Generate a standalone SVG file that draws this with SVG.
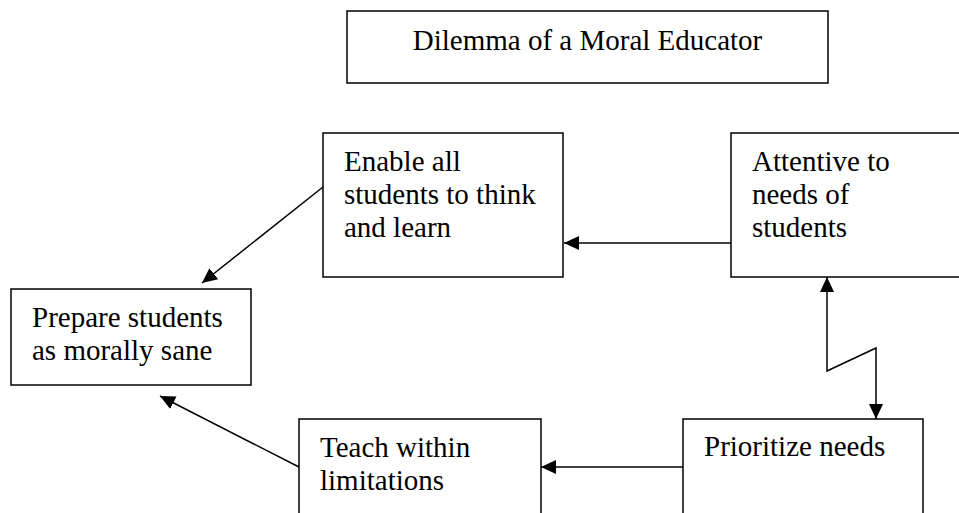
<svg xmlns="http://www.w3.org/2000/svg" width="959" height="513" viewBox="0 0 959 513">
<style>
.box{fill:#fff;stroke:#000;stroke-width:1.5}
.t{font-family:"Liberation Serif","Times New Roman",serif;font-size:29px;fill:#000}
.c{fill:none;stroke:#000;stroke-width:1.5}
</style>
<defs>
<marker id="ah" markerUnits="userSpaceOnUse" markerWidth="16" markerHeight="16" refX="15" refY="7" orient="auto-start-reverse" viewBox="0 0 16 14">
<path d="M0,0 L15,7 L0,14 z" fill="#000"/>
</marker>
</defs>
<rect width="959" height="513" fill="#fff"/>
<g id="title">
<rect class="box" x="347" y="11" width="481" height="72"/>
<text class="t" x="587.5" y="50" text-anchor="middle">Dilemma of a Moral Educator</text>
</g>
<g id="enable">
<rect class="box" x="323" y="133" width="240" height="144"/>
<text class="t" x="344" y="171">Enable all</text>
<text class="t" x="344" y="204">students to think</text>
<text class="t" x="344" y="237">and learn</text>
</g>
<g id="attentive">
<rect class="box" x="731" y="133" width="240" height="144"/>
<text class="t" x="752" y="171">Attentive to</text>
<text class="t" x="752" y="204">needs of</text>
<text class="t" x="752" y="237">students</text>
</g>
<g id="prepare">
<rect class="box" x="11" y="289" width="240" height="96"/>
<text class="t" x="32" y="327">Prepare students</text>
<text class="t" x="32" y="360">as morally sane</text>
</g>
<g id="teach">
<rect class="box" x="299" y="419" width="242" height="120"/>
<text class="t" x="320" y="457">Teach within</text>
<text class="t" x="320" y="490">limitations</text>
</g>
<g id="prioritize">
<rect class="box" x="683" y="419" width="240" height="120"/>
<text class="t" x="704" y="456">Prioritize needs</text>
</g>
<g id="connectors">
<line class="c" x1="731" y1="243" x2="564" y2="243" marker-end="url(#ah)"/>
<line class="c" x1="323" y1="187" x2="202" y2="283" marker-end="url(#ah)"/>
<line class="c" x1="299" y1="467" x2="160" y2="396" marker-end="url(#ah)"/>
<line class="c" x1="683" y1="467" x2="541" y2="467" marker-end="url(#ah)"/>
<polyline class="c" points="827,277 827,371 876,348 876,419" marker-start="url(#ah)" marker-end="url(#ah)"/>
</g>
</svg>
